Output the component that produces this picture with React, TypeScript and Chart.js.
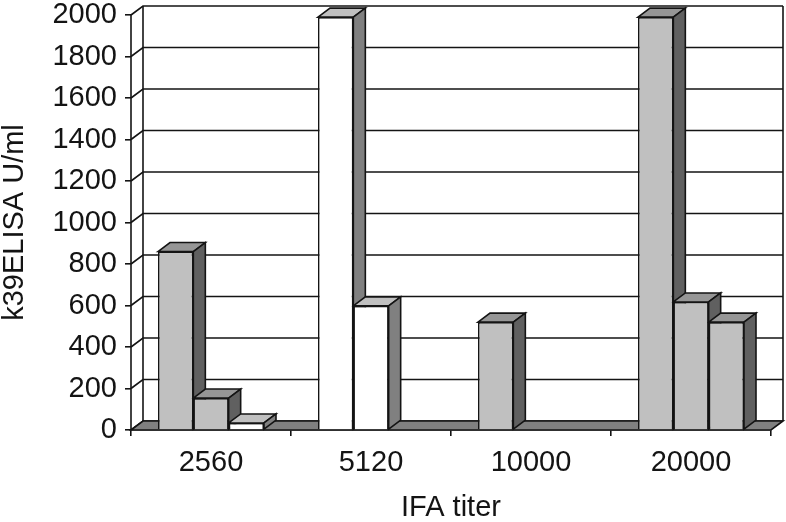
import React, { useEffect, useRef } from "react";
import { Chart, registerables } from "chart.js";

Chart.register(...registerables);

const categories = ["2560", "5120", "10000", "20000"];
const firstBar = [860, 1990, 520, 1990];
const secondBar = [154, 598, null, 617];
const thirdBar = [34, null, null, 520];

const GRAY = "#c0c0c0";
const WHITE = "#ffffff";
const firstColors = [GRAY, WHITE, GRAY, GRAY];
const secondColors = [GRAY, WHITE, GRAY, GRAY];
const thirdColors = [WHITE, WHITE, GRAY, GRAY];

const INK = "#141414";
const LINE = 1.6;
const DX = 12;
const DY = 9;
const FONT = "'Liberation Sans', Arial, sans-serif";

const poly = (ctx: CanvasRenderingContext2D, pts: number[][], fill?: string) => {
  ctx.beginPath();
  pts.forEach((p, i) => (i ? ctx.lineTo(p[0], p[1]) : ctx.moveTo(p[0], p[1])));
  ctx.closePath();
  if (fill) {
    ctx.fillStyle = fill;
    ctx.fill();
  }
  ctx.stroke();
};

const box3d = {
  id: "box3d",
  beforeDatasetsDraw(chart: any) {
    const { ctx, chartArea: a, scales } = chart;
    const y = scales.y;
    ctx.save();
    ctx.strokeStyle = INK;
    ctx.lineWidth = LINE;
    ctx.lineJoin = "miter";

    // back wall grid and side-wall diagonals
    y.ticks.forEach((t: any) => {
      const py = y.getPixelForValue(t.value);
      ctx.beginPath();
      ctx.moveTo(a.left, py);
      ctx.lineTo(a.left + DX, py - DY);
      ctx.lineTo(a.right + DX, py - DY);
      ctx.stroke();
    });
    ctx.beginPath();
    ctx.moveTo(a.left + DX, a.bottom - DY);
    ctx.lineTo(a.left + DX, a.top - DY);
    ctx.moveTo(a.right + DX, a.bottom - DY);
    ctx.lineTo(a.right + DX, a.top - DY);
    ctx.moveTo(a.left, a.top);
    ctx.lineTo(a.left, a.bottom);
    ctx.stroke();

    // floor
    poly(
      ctx,
      [
        [a.left, a.bottom],
        [a.left + DX, a.bottom - DY],
        [a.right + DX, a.bottom - DY],
        [a.right, a.bottom],
      ],
      "#808080"
    );

    // bar tops and sides, category by category
    categories.forEach((_, c) => {
      chart.data.datasets.forEach((ds: any, d: number) => {
        if (ds.data[c] == null) return;
        const el = chart.getDatasetMeta(d).data[c];
        const { x, y: top, base, width } = el.getProps(["x", "y", "base", "width"], true);
        const l = x - width / 2;
        const r = x + width / 2;
        const gray = ds.backgroundColor[c] === GRAY;
        poly(
          ctx,
          [
            [l, top],
            [l + DX, top - DY],
            [r + DX, top - DY],
            [r, top],
          ],
          gray ? "#969696" : "#c0c0c0"
        );
        poly(
          ctx,
          [
            [r, top],
            [r + DX, top - DY],
            [r + DX, base - DY],
            [r, base],
          ],
          gray ? "#606060" : "#808080"
        );
      });
    });
    ctx.restore();
  },
};

export default function App() {
  const ref = useRef<HTMLCanvasElement>(null);
  useEffect(() => {
    const bar = (data: (number | null)[], colors: string[]) => ({
      data,
      backgroundColor: colors,
      borderColor: INK,
      borderWidth: LINE,
      barPercentage: 1,
      categoryPercentage: 0.6625,
    });
    const chart = new Chart(ref.current!, {
      type: "bar",
      data: {
        labels: categories,
        datasets: [bar(firstBar, firstColors), bar(secondBar, secondColors), bar(thirdBar, thirdColors)],
      },
      plugins: [box3d],
      options: {
        animation: false,
        responsive: false,
        layout: { autoPadding: false, padding: { top: 15, right: 15, left: 0, bottom: 0 } },
        plugins: { legend: { display: false }, tooltip: { enabled: false } },
        scales: {
          x: {
            afterFit: (s: any) => {
              s.height = 92;
              s.paddingLeft = 0;
              s.paddingRight = 0;
            },
            grid: {
              offset: true,
              drawOnChartArea: false,
              drawTicks: true,
              tickLength: 6,
              color: INK,
              lineWidth: LINE,
            },
            border: { color: INK, width: LINE },
            ticks: {
              color: INK,
              padding: 10,
              maxRotation: 0,
              font: { family: FONT, size: 29 },
            },
            title: {
              display: true,
              text: "IFA titer",
              color: INK,
              font: { family: FONT, size: 29, lineHeight: 1 },
              padding: { top: 0, bottom: 0 },
            },
          },
          y: {
            min: 0,
            max: 2000,
            afterFit: (s: any) => {
              s.width = 131;
              s.paddingTop = 0;
              s.paddingBottom = 0;
            },
            grid: {
              drawOnChartArea: false,
              drawTicks: true,
              tickLength: 6,
              color: INK,
              lineWidth: LINE,
            },
            border: { display: false },
            ticks: {
              stepSize: 200,
              color: INK,
              padding: 8,
              font: { family: FONT, size: 29 },
              callback: (v: any) => String(v),
            },
            title: {
              display: true,
              text: "k39ELISA U/ml",
              color: INK,
              font: { family: FONT, size: 29, lineHeight: 1 },
              padding: { top: 0, bottom: 0 },
            },
          },
        },
      },
    } as any);
    return () => chart.destroy();
  }, []);
  return (
    <div style={{ position: "absolute", left: 0, top: 0, width: 786, height: 522 }}>
      <canvas ref={ref} width={786} height={522} style={{ display: "block" }} />
    </div>
  );
}
